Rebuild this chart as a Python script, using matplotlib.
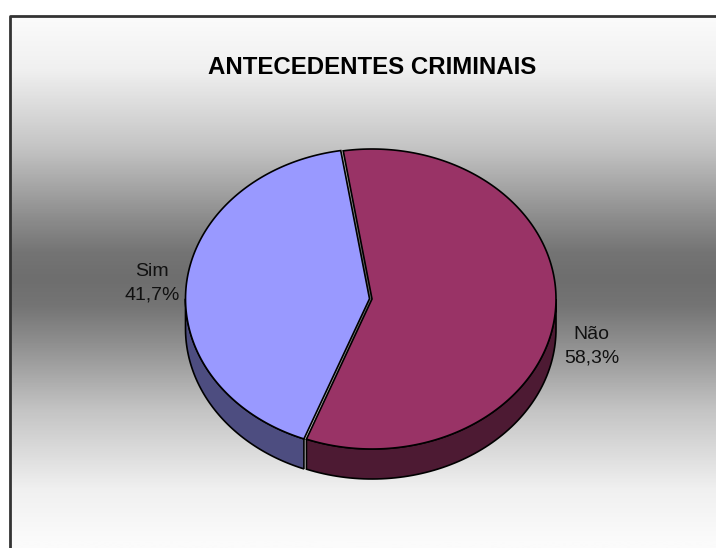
import numpy as np
import matplotlib.pyplot as plt
from matplotlib.patches import Polygon
from matplotlib.colors import LinearSegmentedColormap

plt.rcParams['font.family'] = ['Liberation Sans', 'DejaVu Sans']

# data
labels = ["Não", "Sim"]
values = [58.3, 41.7]
top_colors = ["#993366", "#9999FF"]
side_colors = ["#4D1A33", "#4D4D80"]
title = "ANTECEDENTES CRIMINAIS"

# layout (pixel coords)
W, H = 716, 548
cx, cy = 372, 299
rx, ry = 184, 150
depth = 30
start = 99  # first slice starts here, going clockwise

fig = plt.figure(figsize=(W / 100, H / 100), dpi=100)
ax = fig.add_axes([0, 0, 1, 1])
ax.set_xlim(0, W)
ax.set_ylim(H, 0)
ax.axis("off")

# background gradient inside the chart frame (dark band in the middle)
ys = np.linspace(16, H + 4, 400)
g = np.clip(np.abs(ys - 279) / 263, 0, 1).reshape(-1, 1)
cmap = LinearSegmentedColormap.from_list(
    "bg", [(0, "#6e6e6e"), (0.1, "#747474"), (0.24, "#8e8e8e"),
           (0.5, "#c4c4c4"), (0.8, "#f0f0f0"), (1, "#fbfbfb")])
ax.imshow(g, cmap=cmap, aspect="auto", extent=[10, W + 2, H + 4, 16],
          vmin=0, vmax=1, zorder=0)
ax.plot([10, 10, W + 5], [H + 5, 16, 16], color="#333333", lw=2, zorder=1)


def ell(t, dy=0, off=(0, 0)):
    t = np.radians(t)
    return np.column_stack([cx + off[0] + rx * np.cos(t),
                            cy + off[1] - ry * np.sin(t) + dy])


total = sum(values)
a0 = start
slices = []
for lab, v, ct, cs in zip(labels, values, top_colors, side_colors):
    a1 = a0 - v / total * 360
    slices.append((lab, v, ct, cs, a1, a0))
    a0 = a1

for lab, v, ct, cs, a1, a0 in slices:
    mid = np.radians((a0 + a1) / 2)
    ex = 2.5 if lab == "Sim" else 0
    off = (ex * np.cos(mid), -ex * np.sin(mid))

    # visible side wall: lower half of the ellipse
    for base in (-360, 0, 360):
        s0, s1 = max(a1, -180 + base), min(a0, 0 + base)
        if s1 > s0:
            tt = np.linspace(s0, s1, 80)
            pts = np.vstack([ell(tt, 0, off), ell(tt[::-1], depth, off)])
            ax.add_patch(Polygon(pts, closed=True, fc=cs, ec="black",
                                 lw=1.2, zorder=2))

    tt = np.linspace(a1, a0, 200)
    pts = np.vstack([[cx + off[0], cy + off[1]], ell(tt, 0, off)])
    ax.add_patch(Polygon(pts, closed=True, fc=ct, ec="black", lw=1.2,
                         zorder=3))

    # label
    lx = cx + 1.2 * rx * np.cos(mid)
    ly = cy - 1.2 * ry * np.sin(mid) + 3
    if np.sin(mid) < 0:
        ly += depth * 0.85
    txt = f"{lab}\n{v:.1f}%".replace(".", ",")
    ax.text(lx, ly, txt, ha="center", va="center", fontsize=14,
            linespacing=1.5, color="#111111", zorder=4)

ax.text(cx, 67, title, ha="center", va="center", fontsize=17.3,
        fontweight="bold", color="black", zorder=4)

fig.savefig("out.png", dpi=100)
